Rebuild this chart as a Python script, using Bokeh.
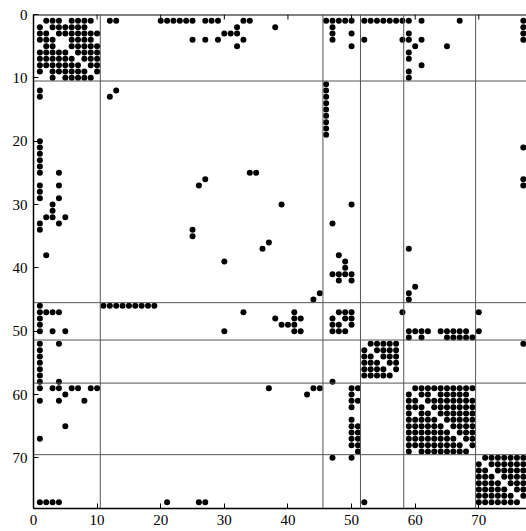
from bokeh.plotting import figure
from bokeh.models import Range1d, LinearAxis, Span, FixedTicker
from bokeh.embed import file_html
from bokeh.resources import INLINE

n_nodes = 77
tick_values = [0, 10, 20, 30, 40, 50, 60, 70]
separators = [10.5, 45.5, 51.4, 58.2, 69.5]

# nonzeros of the symmetric matrix, upper triangle (row, col), 1-based
edges_block_a = [
    (1, 2), (1, 3), (1, 4), (1, 6), (1, 7), (1, 8), (1, 9), (1, 12), (1, 13), (1, 20),
    (1, 21), (1, 22), (1, 23), (1, 24), (1, 25), (1, 27), (1, 28), (1, 29), (1, 33), (1, 34),
    (1, 46), (1, 47), (1, 48), (1, 49), (1, 50), (1, 52), (1, 53), (1, 54), (1, 55), (1, 56),
    (1, 57), (1, 58), (1, 59), (1, 61), (1, 67), (1, 77),
    (2, 3), (2, 4), (2, 5), (2, 6), (2, 7), (2, 8), (2, 32), (2, 38), (2, 47), (2, 77),
    (3, 4), (3, 5), (3, 6), (3, 7), (3, 8), (3, 9), (3, 10), (3, 30), (3, 31), (3, 32),
    (3, 47), (3, 50), (3, 59), (3, 77),
    (4, 6), (4, 7), (4, 8), (4, 9), (4, 25), (4, 27), (4, 29), (4, 33), (4, 47), (4, 52),
    (4, 58), (4, 59), (4, 61), (4, 77),
    (5, 6), (5, 7), (5, 8), (5, 9), (5, 10), (5, 32), (5, 50), (5, 60), (5, 65),
    (6, 7), (6, 8), (6, 9), (6, 10), (6, 59),
    (7, 8), (7, 9), (7, 10), (7, 59),
    (8, 9), (8, 10), (8, 61),
    (9, 10), (9, 59),
    (10, 59),
]
edges_block_b = [
    (11, 46), (12, 13), (12, 46), (13, 46), (14, 46), (15, 46), (16, 46), (17, 46), (18, 46),
    (19, 46), (21, 77), (25, 34), (25, 35), (26, 27), (26, 77), (27, 77), (30, 39), (30, 50),
    (33, 47), (36, 37), (37, 59), (38, 48), (39, 49), (40, 49), (41, 47), (41, 48), (41, 49),
    (41, 50), (42, 48), (42, 50), (43, 60), (44, 45), (44, 59), (45, 59),
]
edges_block_c = [
    (47, 48), (47, 49), (47, 50), (47, 58), (47, 70), (48, 49), (48, 50), (49, 50),
    (50, 59), (50, 60), (50, 61), (50, 62), (50, 64), (50, 65), (50, 66), (50, 67), (50, 68),
    (50, 70),
    (51, 59), (51, 61), (51, 65), (51, 66), (51, 67), (51, 68), (51, 69),
]
edges_block_d = [
    (52, 53), (52, 54), (52, 55), (52, 56), (52, 57), (52, 77),
    (53, 54), (53, 55), (53, 56), (53, 57), (54, 55), (54, 56), (54, 57),
    (55, 56), (55, 57), (56, 57),
]
edges_block_e = [
    (59, 60), (59, 61), (59, 62), (59, 63), (59, 64), (59, 65), (59, 66), (59, 67), (59, 68),
    (59, 69),
    (60, 61), (60, 62), (60, 64), (60, 65), (60, 66), (60, 67), (60, 68),
    (61, 62), (61, 63), (61, 64), (61, 65), (61, 66), (61, 67), (61, 68), (61, 69),
    (62, 63), (62, 64), (62, 65), (62, 66), (62, 67), (62, 68), (62, 69),
    (63, 64), (63, 65), (63, 66), (63, 67), (63, 68), (63, 69),
    (64, 65), (64, 66), (64, 67), (64, 68), (64, 69),
    (65, 66), (65, 67), (65, 68), (65, 69),
    (66, 67), (66, 68), (66, 69),
    (67, 68), (67, 69),
    (68, 69),
]
edges_block_f = [
    (70, 71), (70, 72), (70, 73), (70, 74), (70, 75), (70, 76), (70, 77),
    (71, 72), (71, 73), (71, 74), (71, 75), (71, 76), (71, 77),
    (72, 73), (72, 74), (72, 75), (72, 76), (72, 77),
    (73, 74), (73, 75), (73, 76), (73, 77),
    (74, 75), (74, 76), (74, 77),
    (75, 76), (75, 77),
    (76, 77),
]

rows, cols = [], []
for r, c in (edges_block_a + edges_block_b + edges_block_c + edges_block_d
             + edges_block_e + edges_block_f):
    rows += [r, c]
    cols += [c, r]

p = figure(width=526, height=531, output_backend="svg", toolbar_location=None,
           x_range=Range1d(0, 77.5), y_range=Range1d(n_nodes + 1, 0),
           min_border_left=33, min_border_right=0, min_border_top=14, min_border_bottom=23,
           x_axis_location=None, y_axis_location=None)
p.outline_line_color = None
p.background_fill_color = "white"
p.border_fill_color = "white"
p.xgrid.visible = False
p.ygrid.visible = False

font = "Liberation Serif"
def make_axis():
    ax = LinearAxis(ticker=FixedTicker(ticks=tick_values))
    ax.axis_line_color = "black"
    ax.axis_line_width = 1.5
    ax.major_tick_in = 5
    ax.major_tick_out = 0
    ax.minor_tick_line_color = None
    ax.major_tick_line_color = "black"
    ax.major_label_text_font = font
    ax.major_label_text_font_size = "15px"
    ax.major_label_text_color = "black"
    ax.major_label_standoff = 6
    return ax

p.add_layout(make_axis(), "below")
p.add_layout(make_axis(), "left")

# top border and inward ticks
p.add_layout(Span(location=0, dimension="width", line_color="black", line_width=2))
p.segment(x0=tick_values, y0=[0]*len(tick_values), x1=tick_values, y1=[0.8]*len(tick_values),
          line_color="black", line_width=1)

for s in separators:
    p.add_layout(Span(location=s, dimension="height", line_color="#555555", line_width=1))
    p.add_layout(Span(location=s, dimension="width", line_color="#555555", line_width=1))

p.scatter(x=cols, y=rows, size=6, color="black", line_color=None)

open("out.html", "w").write(file_html(p, INLINE))
